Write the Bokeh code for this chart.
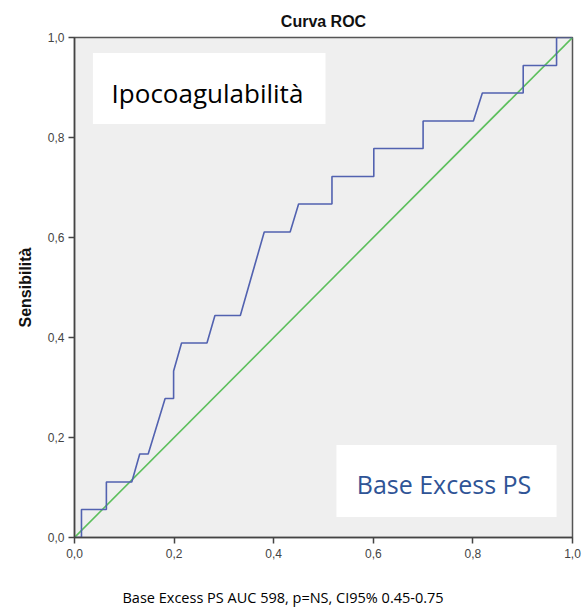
from bokeh.plotting import figure
from bokeh.layouts import column
from bokeh.models import (FixedTicker, CustomJSTickFormatter, BoxAnnotation, Label,
                          Range1d)
from bokeh.embed import file_html
from bokeh.resources import INLINE

# ROC curve (1 - specificity, sensitivity)
fpr = [0.0, 0.014, 0.014, 0.064, 0.064, 0.115, 0.131, 0.148, 0.182, 0.199, 0.199,
       0.215, 0.266, 0.282, 0.333, 0.381, 0.433, 0.450, 0.517, 0.517, 0.601, 0.601,
       0.700, 0.700, 0.801, 0.819, 0.901, 0.901, 0.968, 0.968, 1.0]
tpr = [0.0, 0.0, 0.056, 0.056, 0.111, 0.111, 0.167, 0.167, 0.278, 0.278, 0.333,
       0.389, 0.389, 0.444, 0.444, 0.611, 0.611, 0.667, 0.667, 0.722, 0.722, 0.778,
       0.778, 0.833, 0.833, 0.889, 0.889, 0.944, 0.944, 1.0, 1.0]
ref_x = [0.0, 1.0]
ref_y = [0.0, 1.0]

tick_values = [0.0, 0.2, 0.4, 0.6, 0.8, 1.0]
tick_labels = ["0,0", "0,2", "0,4", "0,6", "0,8", "1,0"]

title_text = "Curva ROC"
y_label = "Sensibilità"
box1_text = "Ipocoagulabilità"
box2_text = "Base Excess PS"
caption = "Base Excess PS AUC 598, p=NS, CI95% 0.45-0.75"

p = figure(width=585, height=564, output_backend="svg", toolbar_location=None,
           x_range=Range1d(0, 1), y_range=Range1d(0, 1),
           min_border_left=74, min_border_right=13, min_border_top=37,
           min_border_bottom=27)

p.background_fill_color = "#efefef"
p.border_fill_color = "white"
p.outline_line_color = "#555555"
p.outline_line_width = 1.5
p.grid.visible = False

p.title.text = title_text
p.title.align = "center"
p.title.text_font = "Liberation Sans"
p.title.text_font_size = "16px"
p.title.text_font_style = "bold"
p.title.text_color = "#111111"
p.title.standoff = 15

fmt = CustomJSTickFormatter(args=dict(vals=tick_values, labs=tick_labels), code="""
  let best = 0, d = 1e9;
  for (let i = 0; i < vals.length; i++) {
    const dd = Math.abs(vals[i] - tick);
    if (dd < d) { d = dd; best = i; }
  }
  return labs[best];
""")

for ax in (p.xaxis[0], p.yaxis[0]):
    ax.ticker = FixedTicker(ticks=tick_values)
    ax.formatter = fmt
    ax.axis_line_color = "#444444"
    ax.axis_line_width = 1.5
    ax.major_tick_line_color = "#444444"
    ax.major_tick_line_width = 1.5
    ax.major_tick_in = 0
    ax.major_tick_out = 6
    ax.minor_tick_line_color = None
    ax.major_label_text_font = "Liberation Sans"
    ax.major_label_text_font_size = "12px"
    ax.major_label_text_color = "#444444"

p.xaxis[0].major_label_standoff = 5
p.yaxis[0].major_label_standoff = 4
p.yaxis[0].axis_label = y_label
p.yaxis[0].axis_label_text_font = "Liberation Sans"
p.yaxis[0].axis_label_text_font_size = "16px"
p.yaxis[0].axis_label_text_font_style = "bold"
p.yaxis[0].axis_label_text_color = "#111111"
p.yaxis[0].axis_label_standoff = 11

p.line(ref_x, ref_y, line_color="#5cbf5c", line_width=1.6)
p.line(fpr, tpr, line_color="#5262b0", line_width=1.6)

p.add_layout(BoxAnnotation(left=0.037, right=0.504, bottom=0.827, top=0.969,
                           fill_color="white", fill_alpha=1.0, line_color=None))
p.add_layout(BoxAnnotation(left=0.526, right=0.968, bottom=0.041, top=0.185,
                           fill_color="white", fill_alpha=1.0, line_color=None))

p.add_layout(Label(x=0.267, y=0.889, text=box1_text, text_align="center",
                   text_baseline="alphabetic", text_font="Open Sans",
                   text_font_size="26px", text_color="black"))
p.add_layout(Label(x=0.742, y=0.107, text=box2_text, text_align="center",
                   text_baseline="alphabetic", text_font="Open Sans",
                   text_font_size="25px", text_color="#2f5496"))

# caption strip below the chart (its frame is aligned with the chart's frame,
# so the x range spans the chart frame's pixel extent 74..572)
c = figure(width=585, height=48, output_backend="svg", toolbar_location=None,
           x_range=Range1d(74, 572), y_range=Range1d(0, 48),
           x_axis_location=None, y_axis_location=None,
           min_border=0)
c.grid.visible = False
c.outline_line_color = None
c.background_fill_color = "white"
c.border_fill_color = "white"
c.add_layout(Label(x=122, y=15, text=caption, text_align="left",
                   text_baseline="middle", text_font="Open Sans",
                   text_font_size="14.5px", text_color="black"))

layout = column(p, c, spacing=0)
open("out.html", "w").write(file_html(layout, INLINE))
